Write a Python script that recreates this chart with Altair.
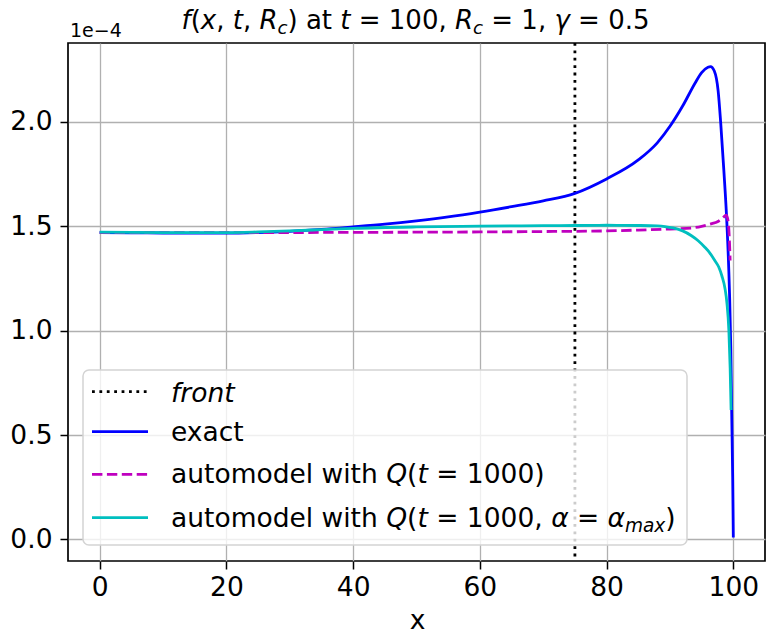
import altair as alt
import pandas as pd

# ---------------- data (values in units of 1e-4) ----------------
front_x = [75]

exact_x = [0, 5, 10, 15, 20, 25, 30, 35, 40, 45, 50, 55, 60, 65, 70, 75, 80, 85, 88, 90,
           92, 94, 95, 96, 96.4, 97, 97.6, 98, 98.5, 99, 99.4, 99.6, 99.75, 99.9, 100]
exact_y = [1.470, 1.469, 1.468, 1.467, 1.467, 1.470, 1.476, 1.485, 1.497, 1.510, 1.526,
           1.545, 1.568, 1.594, 1.622, 1.658, 1.727, 1.818, 1.900, 1.979, 2.076, 2.188,
           2.236, 2.262, 2.265, 2.244, 2.150, 2.000, 1.770, 1.505, 1.180, 0.920, 0.600,
           0.300, 0.010]

auto_x = [0, 20, 40, 60, 70, 80, 85, 90, 93.4, 95, 96.6, 97.5, 98.2, 98.9, 99.2, 99.4, 99.5]
auto_y = [1.470, 1.470, 1.471, 1.473, 1.475, 1.478, 1.482, 1.487, 1.492, 1.500, 1.513,
          1.522, 1.537, 1.553, 1.520, 1.420, 1.336]

amax_x = [0, 10, 20, 25, 30, 35, 40, 50, 60, 70, 75, 80, 85, 88, 89.2, 90.5, 92, 93.4,
          94.5, 95.5, 96.3, 97.1, 97.7, 98.2, 98.7, 99.0, 99.3, 99.5, 99.65]
amax_y = [1.472, 1.470, 1.470, 1.473, 1.478, 1.484, 1.490, 1.497, 1.501, 1.503, 1.504,
          1.505, 1.504, 1.502, 1.499, 1.492, 1.478, 1.455, 1.430, 1.400, 1.372, 1.335,
          1.305, 1.262, 1.200, 1.130, 1.000, 0.820, 0.620]

x_ticks = [0, 20, 40, 60, 80, 100]
y_ticks = [0.0, 0.5, 1.0, 1.5, 2.0]

FONT = "DejaVu Sans"
W, H = 697, 518
LW = 2.8

# ---------------- scales / axes ----------------
xscale = alt.Scale(domain=[-5, 105], nice=False, zero=False)
yscale = alt.Scale(domain=[-0.103, 2.378], nice=False, zero=False)

common_axis = dict(title=None, grid=True, gridColor="#b0b0b0", gridWidth=1.3,
                   domain=False, ticks=True, tickColor="black", tickSize=8, tickWidth=1.5,
                   labelFont=FONT, labelFontSize=26.5, labelColor="black")
xaxis = alt.Axis(values=x_ticks, format="d", labelPadding=5, **common_axis)
yaxis = alt.Axis(values=y_ticks, format=".1f", labelPadding=8, **common_axis)

def series_df(xs, ys):
    return pd.DataFrame({"x": xs, "f": ys})

def line(xs, ys, color, dash=None):
    kw = dict(color=color, strokeWidth=LW, clip=True, interpolate="monotone")
    if dash:
        kw["strokeDash"] = dash
    return alt.Chart(series_df(xs, ys)).mark_line(**kw).encode(
        x=alt.X("x:Q", scale=xscale, axis=xaxis),
        y=alt.Y("f:Q", scale=yscale, axis=yaxis),
    )

front = alt.Chart(pd.DataFrame({"x": front_x})).mark_rule(
    color="black", strokeWidth=LW, strokeDash=[2.8, 4.6]
).encode(x=alt.X("x:Q", scale=xscale, axis=xaxis))

l_exact = line(exact_x, exact_y, "#0000ff")
l_auto = line(auto_x, auto_y, "#bf00bf", [10.4, 4.5])
l_amax = line(amax_x, amax_y, "#00bfbf")

# ---------------- text helpers (DejaVu Sans advances / 2048) ----------------
ADV = {' ': 651, '(': 799, ')': 799, ',': 651, '.': 651, '=': 1716, '−': 1716,
       'a': 1255, 'c': 1126, 'd': 1300, 'e': 1260, 'f': 721, 'h': 1298, 'i': 569,
       'l': 569, 'm': 1995, 'n': 1298, 'o': 1253, 'r': 842, 't': 803, 'u': 1298,
       'w': 1675, 'x': 1212, 'Q': 1612, 'R': 1423, 'α': 1343, 'γ': 1212}
for d in "0123456789":
    ADV[d] = 1303

dummy = pd.DataFrame({"k": [0]})

def tw(t, s):
    return sum(ADV.get(c, 1250) for c in t) / 2048 * s

def text_run(segments, x0, y0, size, anchor="left"):
    sizes = [size * 0.7 if sub else size for _, _, sub in segments]
    total = sum(tw(t, s) for (t, _, _), s in zip(segments, sizes))
    x = x0 - total / 2 if anchor == "center" else x0
    marks = []
    for (t, it, sub), s in zip(segments, sizes):
        lead = len(t) - len(t.lstrip(" "))
        xx = x + tw(" " * lead, s)
        txt = t.strip(" ")
        if txt:
            marks.append(
                alt.Chart(dummy).mark_text(
                    text=txt, font=FONT, fontSize=s,
                    fontStyle="italic" if it else "normal",
                    align="left", baseline="alphabetic", color="black",
                ).encode(x=alt.value(xx), y=alt.value(y0 + (0.2 * size if sub else 0)))
            )
        x += tw(t, s)
    return marks

# ---------------- title, offset text, x label ----------------
title_segs = [("f", True, False), ("(", False, False), ("x", True, False), (", ", False, False),
              ("t", True, False), (", ", False, False), ("R", True, False), ("c", True, True),
              (") at ", False, False), ("t", True, False), (" = 100, ", False, False),
              ("R", True, False), ("c", True, True), (" = 1, ", False, False),
              ("γ", True, False), (" = 0.5", False, False)]
title_marks = text_run(title_segs, W / 2 - 1, -14, 26, anchor="center")

offset_mark = alt.Chart(dummy).mark_text(
    text="1e−4", font=FONT, fontSize=19, align="left", baseline="alphabetic", color="black"
).encode(x=alt.value(2), y=alt.value(-6))

xlabel_mark = alt.Chart(dummy).mark_text(
    text="x", font=FONT, fontSize=26.5, align="center", baseline="alphabetic", color="black"
).encode(x=alt.value(W / 2 + 1), y=alt.value(586))

# ---------------- manual legend ----------------
leg_box = alt.Chart(dummy).mark_rect(
    fill="white", fillOpacity=0.8, stroke="#d4d4d4", strokeWidth=1.5, cornerRadius=6
).encode(x=alt.value(15), x2=alt.value(619), y=alt.value(327), y2=alt.value(502))

def leg_line(y, color, dash=None):
    kw = dict(color=color, strokeWidth=LW)
    if dash:
        kw["strokeDash"] = dash
    return alt.Chart(dummy).mark_rule(**kw).encode(
        x=alt.value(24), x2=alt.value(80), y=alt.value(y), y2=alt.value(y))

leg_syms = [leg_line(348.7, "black", [2.8, 4.6]),
            leg_line(388.7, "#0000ff"),
            leg_line(431.3, "#bf00bf", [10.4, 4.5]),
            leg_line(474.7, "#00bfbf")]

LX, LS = 103, 26.5
leg_text = []
leg_text += text_run([("front", True, False)], LX, 358.7, LS)
leg_text += text_run([("exact", False, False)], LX, 398, LS)
leg_text += text_run([("automodel with ", False, False), ("Q", True, False), ("(", False, False),
                      ("t", True, False), (" = 1000)", False, False)], LX, 440.3, LS)
leg_text += text_run([("automodel with ", False, False), ("Q", True, False), ("(", False, False),
                      ("t", True, False), (" = 1000, ", False, False), ("α", True, False),
                      (" = ", False, False), ("α", True, False), ("max", True, True),
                      (")", False, False)], LX, 483.7, LS)

layers = [front, l_exact, l_auto, l_amax, leg_box] + leg_syms + leg_text + \
         title_marks + [offset_mark, xlabel_mark]

chart = alt.layer(*layers).properties(
    width=W, height=H,
    autosize=alt.AutoSizeParams(type="none"),
    padding={"left": 68, "top": 43, "right": 1, "bottom": 76},
    background="white",
).configure_view(stroke="black", strokeWidth=1.7)

chart.save("out.html", embed_options={"renderer": "svg", "actions": False})
